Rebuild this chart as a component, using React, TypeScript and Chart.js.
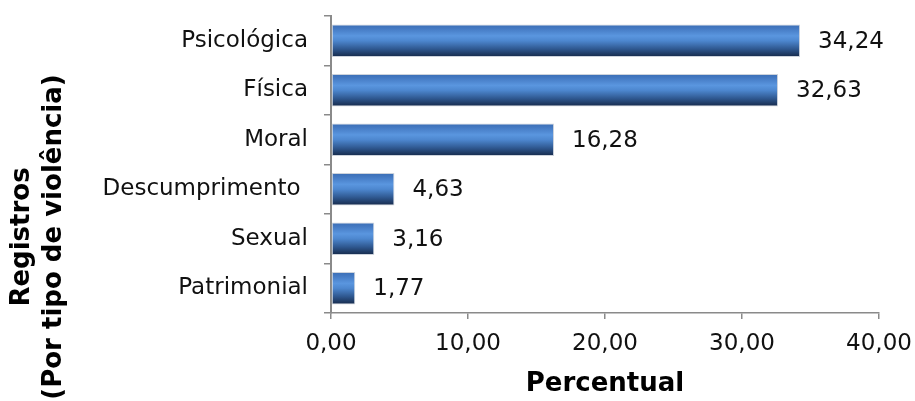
import React, { useEffect, useRef } from "react";
import { Chart, registerables } from "chart.js";

Chart.register(...registerables);

const categories = ["Psicológica", "Física", "Moral", "Descumprimento ", "Sexual", "Patrimonial"];
const values = [34.24, 32.63, 16.28, 4.63, 3.16, 1.77];
const xTicks = [0, 10, 20, 30, 40];
const xTitle = "Percentual";
const yTitleLines = ["Registros", "(Por tipo de violência)"];

const FONT = "'DejaVu Sans', Verdana, sans-serif";
const AXIS = "#8a8a8a";
const BAR_PCT = 0.66;

const fmt = (v: number) => v.toFixed(2).replace(".", ",");

export default function App() {
  const ref = useRef<HTMLCanvasElement | null>(null);

  useEffect(() => {
    if (!ref.current) return;
    const labelsPlugin = {
      id: "labelsAndTitles",
      afterDatasetsDraw(chart: any) {
        const ctx = chart.ctx;
        const meta = chart.getDatasetMeta(0);
        ctx.save();
        ctx.fillStyle = "#111";
        ctx.font = `23px ${FONT}`;
        ctx.textAlign = "left";
        ctx.textBaseline = "middle";
        meta.data.forEach((el: any, i: number) => {
          ctx.fillText(fmt(values[i]), el.x + 18, el.y + 1);
        });
        ctx.restore();
      },
      afterDraw(chart: any) {
        const ctx = chart.ctx;
        const area = chart.chartArea;
        ctx.save();
        ctx.fillStyle = "#000";
        ctx.font = `bold 26px ${FONT}`;
        ctx.textAlign = "center";
        ctx.textBaseline = "middle";
        ctx.fillText(xTitle, (area.left + area.right) / 2, 384);
        ctx.translate(0, 237);
        ctx.rotate(-Math.PI / 2);
        yTitleLines.forEach((t, i) => {
          ctx.fillText(t, 0, 22 + i * 32);
        });
        ctx.restore();
      },
    };

    const chart = new Chart(ref.current, {
      type: "bar",
      data: {
        labels: categories,
        datasets: [
          {
            data: values,
            barPercentage: BAR_PCT,
            categoryPercentage: 1,
            borderColor: "#cdd3dc",
            borderWidth: 1,
            borderSkipped: false,
            backgroundColor: (c: any) => {
              const chart = c.chart;
              const ys = chart.scales && chart.scales.y;
              if (!ys || c.dataIndex === undefined) return "#4a7ebb";
              const center = ys.getPixelForValue(c.dataIndex);
              const half = ((ys.bottom - ys.top) / categories.length) * BAR_PCT / 2;
              if (!isFinite(center) || !isFinite(half) || half <= 0) return "#4a7ebb";
              const g = chart.ctx.createLinearGradient(0, center - half, 0, center + half);
              g.addColorStop(0, "#3a6db4");
              g.addColorStop(0.12, "#4479c2");
              g.addColorStop(0.35, "#5a96df");
              g.addColorStop(0.5, "#4d87cf");
              g.addColorStop(0.75, "#2f5890");
              g.addColorStop(1, "#152848");
              return g;
            },
          },
        ],
      },
      options: {
        indexAxis: "y",
        responsive: false,
        animation: false,
        devicePixelRatio: 1,
        layout: { padding: { top: 16, right: 36, left: 0, bottom: 0 } },
        plugins: {
          legend: { display: false },
          tooltip: { enabled: false },
        },
        scales: {
          x: {
            type: "linear",
            min: 0,
            max: 40,
            afterBuildTicks: (scale: any) => {
              scale.ticks = xTicks.map((v) => ({ value: v }));
            },
            afterFit: (scale: any) => {
              scale.height = 88;
              scale.paddingLeft = 0;
              scale.paddingRight = 0;
            },
            ticks: {
              color: "#111",
              font: { family: FONT, size: 23 },
              padding: 11,
              callback: (v: any) => fmt(Number(v)),
              maxRotation: 0,
            },
            grid: {
              drawOnChartArea: false,
              drawTicks: true,
              tickLength: 6,
              color: AXIS,
              lineWidth: 1.5,
            },
            border: { display: true, color: AXIS, width: 1.5 },
          },
          y: {
            afterFit: (scale: any) => {
              scale.width = 331;
              scale.paddingTop = 0;
              scale.paddingBottom = 0;
            },
            ticks: {
              color: "#111",
              font: { family: FONT, size: 23 },
              padding: 16,
            },
            grid: {
              offset: true,
              drawOnChartArea: false,
              drawTicks: true,
              tickLength: 7,
              color: AXIS,
              lineWidth: 1.5,
            },
            border: { display: true, color: AXIS, width: 2 },
          },
        },
      },
      plugins: [labelsPlugin],
    } as any);
    return () => chart.destroy();
  }, []);

  return (
    <div style={{ position: "fixed", left: 0, top: 0, width: 915, height: 401, background: "#fff" }}>
      <canvas ref={ref} width={915} height={401} />
    </div>
  );
}
